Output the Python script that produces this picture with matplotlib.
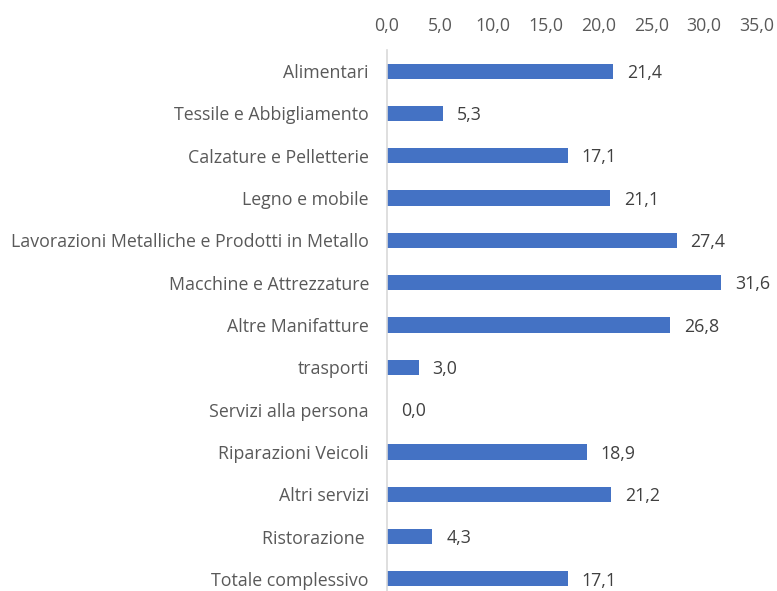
import matplotlib

matplotlib.use("Agg")
import matplotlib.pyplot as plt  # noqa: E402

# Valori (quota % per settore)
SETTORI = [
    "Alimentari",
    "Tessile e Abbigliamento",
    "Calzature e Pelletterie",
    "Legno e mobile",
    "Lavorazioni Metalliche e Prodotti in Metallo",
    "Macchine e Attrezzature",
    "Altre Manifatture",
    "trasporti",
    "Servizi alla persona",
    "Riparazioni Veicoli",
    "Altri servizi",
    "Ristorazione ",
    "Totale complessivo",
]
VALORI = [21.4, 5.3, 17.1, 21.1, 27.4, 31.6, 26.8, 3.0, 0.0, 18.9, 21.2, 4.3, 17.1]
TICKS = [0, 5, 10, 15, 20, 25, 30, 35]

BAR = "#4472C4"
TESTO = "#595959"
ETICHETTA = "#404040"
ASSE = "#D9D9D9"
FS = 12.8

plt.rcParams["font.family"] = ["Open Sans", "DejaVu Sans"]


def fmt(v: float) -> str:
    return f"{v:.1f}".replace(".", ",")


fig = plt.figure(figsize=(7.77, 5.91), dpi=100)
ax = fig.add_axes([387 / 777, -9 / 591, 370 / 777, 550 / 591])

pos = list(range(len(SETTORI)))
ax.barh(pos, VALORI, height=0.36, color=BAR)
ax.set_ylim(len(SETTORI) - 0.5, -0.5)
ax.set_xlim(0, 35)

ax.xaxis.tick_top()
ax.set_xticks(TICKS)
ax.set_xticklabels([fmt(t) for t in TICKS])
ax.set_yticks(pos)
ax.set_yticklabels(SETTORI)
ax.tick_params(axis="x", length=0, pad=11, labelsize=FS, labelcolor=TESTO)
ax.tick_params(axis="y", length=0, pad=13, labelsize=FS, labelcolor=TESTO)

for s in ["top", "right", "bottom"]:
    ax.spines[s].set_visible(False)
ax.spines["left"].set_color(ASSE)
ax.spines["left"].set_linewidth(1.2)

for y, v in zip(pos, VALORI):
    ax.annotate(
        fmt(v),
        (v, y),
        xytext=(10, -1.2),
        textcoords="offset points",
        va="center",
        ha="left",
        fontsize=FS,
        color=ETICHETTA,
    )

fig.savefig("out.png", dpi=100)
